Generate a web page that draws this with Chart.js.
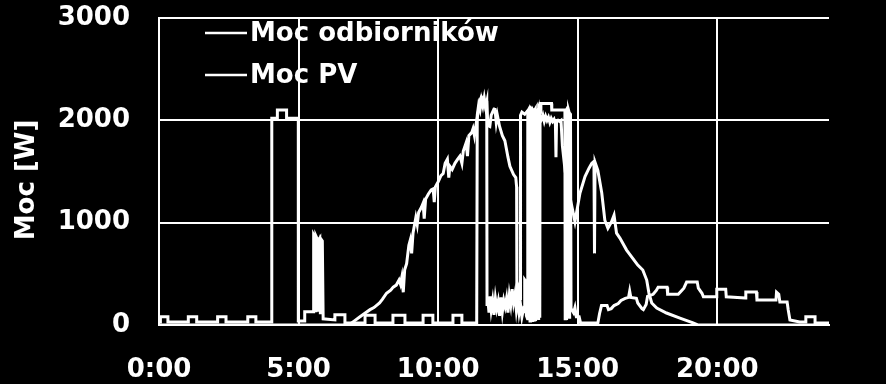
<!DOCTYPE html>
<html>
<head>
<meta charset="utf-8">
<script src="https://cdn.jsdelivr.net/npm/chart.js"></script>
<style>
    html, body { margin: 0; padding: 0; background: #000; }
    #chart { display: block; }
</style>
</head>
<body>
<canvas id="chart" width="886" height="384"></canvas>
<script>
// Dane: czas [h] i moc [W]
const loadHours = [
    0.00, 0.05, 0.05, 0.32, 0.32, 1.05, 1.05, 1.35, 1.35, 2.10, 2.10, 2.40, 2.40, 3.18, 3.18, 3.47, 3.47,
    4.04, 4.04, 4.24, 4.24, 4.57, 4.57, 4.99, 4.99,
    5.22, 5.22, 5.52, 5.54, 5.58, 5.60, 5.62, 5.67, 5.69, 5.71, 5.76, 5.78, 5.80, 5.85, 5.88,
    6.30, 6.30, 6.66, 6.66, 7.38, 7.38, 7.74, 7.74, 8.38, 8.38, 8.81, 8.81, 9.46, 9.46, 9.81, 9.81,
    10.53, 10.53, 10.85, 10.85,
    11.38, 11.40, 11.45, 11.50, 11.55, 11.60, 11.65, 11.70, 11.74, 11.75,
    11.78, 11.82, 11.86, 11.90, 11.95, 12.00, 12.05, 12.10, 12.15, 12.20, 12.25, 12.30, 12.35, 12.40,
    12.45, 12.50, 12.55, 12.60, 12.65, 12.70, 12.75, 12.80, 12.85, 12.90, 12.95, 13.00, 13.05, 13.09,
    13.10, 13.15, 13.16,
    13.20, 13.21, 13.23, 13.24, 13.26, 13.28, 13.29, 13.31, 13.33, 13.34, 13.36, 13.38, 13.39, 13.41,
    13.43, 13.44, 13.46, 13.48, 13.49, 13.51, 13.53, 13.54, 13.56, 13.58, 13.59, 13.61, 13.63, 13.64, 13.65,
    13.68, 14.06, 14.07, 14.54, 14.55, 14.57, 14.59, 14.60, 14.62, 14.64, 14.65, 14.67, 14.69, 14.70,
    14.72, 14.74, 14.76, 14.85, 14.90, 14.95, 15.05, 15.10,
    15.72, 15.78, 15.85, 16.05, 16.10, 16.20, 16.30, 16.45, 16.55, 16.70, 16.82, 16.86, 16.90, 17.10,
    17.15, 17.30, 17.35, 17.45, 17.50, 17.70, 17.82, 17.88, 18.20, 18.22, 18.60, 18.70, 18.80, 18.90,
    19.28, 19.32, 19.45, 19.50, 19.97, 19.98, 20.30, 20.32, 21.00, 21.02, 21.40, 21.42, 22.10, 22.12,
    22.20, 22.24, 22.50, 22.54, 22.60, 22.95, 23.17, 23.17, 23.50, 23.50, 24.00
];
const loadWatts = [
    30, 30, 80, 80, 30, 30, 80, 80, 30, 30, 80, 80, 30, 30, 80, 80, 30,
    30, 2020, 2020, 2100, 2100, 2020, 2020, 40,
    40, 130, 130, 880, 860, 140, 870, 840, 130, 830, 850, 120, 840, 820, 60,
    50, 100, 100, 20, 20, 95, 95, 20, 20, 95, 95, 20, 20, 95, 95, 20,
    20, 95, 95, 20,
    20, 2050, 2150, 2100, 2200, 2140, 2220, 2130, 2180, 200,
    250, 120, 280, 150, 240, 100, 260, 160, 230, 90, 270, 130, 240, 180,
    260, 120, 290, 200, 350, 220, 300, 150, 260, 120, 200, 80, 150, 130,
    440, 420, 90,
    60, 2090, 2100, 50, 2080, 2110, 40, 2100, 2090, 60, 2110, 2100, 30, 2090,
    2080, 50, 2100, 2110, 40, 2100, 2090, 60, 2080, 2100, 50, 2110, 2090, 70, 2080,
    2165, 2165, 2100, 2100, 60, 2090, 2100, 50, 2080, 2090, 70, 2100, 2080, 60,
    2070, 2060, 160, 120, 170, 80, 80, 20,
    20, 110, 190, 190, 150, 160, 190, 210, 240, 260, 270, 330, 270, 260,
    215, 160, 150, 200, 280, 300, 340, 370, 370, 300, 300, 330, 360, 420,
    420, 360, 310, 275, 275, 350, 350, 275, 265, 322, 322, 244, 244, 320,
    300, 224, 224, 146, 50, 30, 30, 80, 80, 20, 20
];

const pvHours = [
    0.00, 6.80, 6.85, 7.00, 7.20, 7.40, 7.56, 7.70, 7.90, 8.00, 8.15, 8.30, 8.39, 8.50, 8.60, 8.65,
    8.70, 8.75, 8.80, 8.87, 8.95, 9.00, 9.05, 9.10, 9.20, 9.25, 9.30, 9.40, 9.46, 9.50, 9.55, 9.65,
    9.75, 9.82, 9.86, 9.90, 10.00, 10.10, 10.18, 10.25, 10.33, 10.38, 10.42, 10.50, 10.60, 10.70,
    10.78, 10.85, 10.90, 11.00, 11.05, 11.10, 11.20, 11.25, 11.30, 11.38, 11.45, 11.50, 11.55, 11.60,
    11.65, 11.70, 11.74, 11.78, 11.85, 11.90, 12.00, 12.03, 12.08, 12.12, 12.20, 12.30, 12.39, 12.50,
    12.57, 12.70, 12.78, 12.81, 12.82, 12.86, 12.90, 12.94, 12.95, 13.00, 13.10, 13.20, 13.30, 13.40,
    13.50, 13.60, 13.65, 13.70, 13.75, 13.80, 13.85, 13.90, 13.95, 14.00, 14.05, 14.10, 14.15, 14.20,
    14.22, 14.24, 14.30, 14.35, 14.40, 14.45, 14.55, 14.72, 14.90, 15.08, 15.26, 15.40, 15.50, 15.58,
    15.60, 15.62, 15.72, 15.86, 15.97, 16.08, 16.21, 16.30, 16.39, 16.51, 16.75, 16.93, 17.15, 17.33,
    17.47, 17.55, 17.65, 17.83, 18.18, 18.66, 19.13, 19.30, 24.00
];
const pvWatts = [
    0, 0, 10, 40, 80, 120, 150, 170, 215, 250, 310, 340, 370, 390, 440, 400,
    470, 320, 540, 600, 780, 830, 700, 900, 1050, 980, 1100, 1150, 1190, 1040, 1230, 1280,
    1320, 1330, 1200, 1350, 1400, 1460, 1480, 1580, 1620, 1440, 1550, 1520, 1580, 1620,
    1650, 1580, 1700, 1780, 1650, 1850, 1880, 1920, 1850, 2000, 2100, 2200, 2230, 2210,
    2180, 2120, 2190, 1950, 1940, 2050, 2110, 2120, 1980, 2050, 1940, 1850, 1800, 1640,
    1550, 1470, 1440, 1350, 280, 200, 320, 260, 2050, 2080, 2060, 2090, 2070, 2100,
    2080, 2060, 2040, 2010, 2050, 1990, 2040, 2000, 2030, 1980, 2020, 1990, 2010, 1960,
    1640, 1980, 2000, 1990, 2000, 1750, 1500, 1250, 1010, 1290, 1450, 1530, 1580, 1600,
    700, 1590, 1510, 1290, 1024, 946, 1008, 1073, 897, 849, 732, 666, 585, 537,
    439, 312, 215, 166, 117, 68, 20, 0, 0
];

const seriesNames = ['Moc odbiorników', 'Moc PV'];
const xTicks = [0, 5, 10, 15, 20];
const yTicks = [0, 1000, 2000, 3000];

const FONT = 'bold 26px "DejaVu Sans"';

function toPoints(hours, watts) {
    return hours.map((h, i) => ({ x: h, y: watts[i] }));
}

// Legenda i opis osi Y rysowane recznie
const overlay = {
    id: 'overlay',
    afterDraw(chart) {
        const c = chart.ctx;
        c.save();
        c.fillStyle = '#fff';
        c.strokeStyle = '#fff';
        c.lineWidth = 2.5;
        c.font = FONT;
        c.textBaseline = 'middle';
        seriesNames.forEach((name, i) => {
            const y = 33 + i * 42;
            c.beginPath();
            c.moveTo(205, y);
            c.lineTo(247, y);
            c.stroke();
            c.fillText(name, 250, y + 1);
        });
        // tytul osi Y
        c.translate(26, 180);
        c.rotate(-Math.PI / 2);
        c.textAlign = 'center';
        c.fillText('Moc [W]', 0, 1);
        c.restore();
    }
};

const ctx = document.getElementById('chart').getContext('2d');
const chart = new Chart(ctx, {
    type: 'line',
    data: {
        datasets: [{
            label: seriesNames[0],
            data: toPoints(loadHours, loadWatts),
            borderColor: '#fff',
            borderWidth: 3,
            pointRadius: 0,
            tension: 0
        }, {
            label: seriesNames[1],
            data: toPoints(pvHours, pvWatts),
            borderColor: '#fff',
            borderWidth: 3,
            pointRadius: 0,
            tension: 0
        }]
    },
    options: {
        responsive: false,
        animation: false,
        devicePixelRatio: 1,
        layout: { padding: { top: 18, right: 57, left: 0, bottom: 0 } },
        plugins: {
            legend: { display: false },
            tooltip: { enabled: false }
        },
        scales: {
            x: {
                type: 'linear',
                min: 0,
                max: 24,
                afterFit: s => {
                    s.height = 59;
                    s.paddingLeft = 0;
                    s.paddingRight = 0;
                },
                afterBuildTicks: s => { s.ticks = xTicks.map(v => ({ value: v })); },
                ticks: {
                    color: '#fff',
                    font: { family: 'DejaVu Sans', size: 26, weight: 'bold' },
                    padding: 30,
                    maxRotation: 0,
                    callback: v => v + ':00'
                },
                grid: { color: '#fff', lineWidth: 2, drawTicks: false },
                border: { color: '#fff', width: 2 }
            },
            y: {
                min: 0,
                max: 3000,
                afterFit: s => {
                    s.width = 159;
                    s.paddingTop = 0;
                    s.paddingBottom = 0;
                },
                afterBuildTicks: s => { s.ticks = yTicks.map(v => ({ value: v })); },
                ticks: {
                    color: '#fff',
                    font: { family: 'DejaVu Sans', size: 26, weight: 'bold' },
                    padding: 29,
                    callback: v => String(v)
                },
                grid: { color: '#fff', lineWidth: 2, drawTicks: false },
                border: { color: '#fff', width: 2 }
            }
        }
    },
    plugins: [overlay]
});
</script>
</body>
</html>
